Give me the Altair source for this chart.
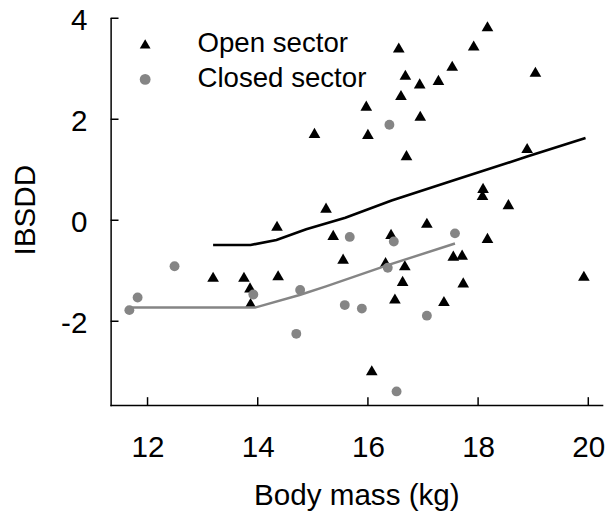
import altair as alt
import pandas as pd

# Open sector (triangles)
open_x = [13.19, 13.75, 13.86, 13.87, 14.35, 14.37, 15.03, 15.24, 15.37, 15.55,
          15.97, 16.00, 16.07, 16.32, 16.42, 16.49, 16.56, 16.60, 16.63, 16.67,
          16.68, 16.70, 16.94, 16.95, 17.07, 17.28, 17.38, 17.53, 17.55, 17.71,
          17.73, 17.92, 18.08, 18.09, 18.17, 18.17, 18.55, 18.89, 19.04, 19.92]
open_y = [-1.12, -1.12, -1.33, -1.64, -0.11, -1.09, 1.73, 0.25, -0.29, -0.76,
          2.27, 1.71, -2.97, -0.83, -0.27, -1.55, 3.42, 2.48, -1.20, -0.89,
          2.88, 1.29, 2.71, 2.07, -0.05, 2.78, -1.60, 3.06, -0.70, -0.68,
          -1.23, 3.46, 0.50, 0.64, 3.84, -0.35, 0.32, 1.43, 2.94, -1.10]

# Closed sector (circles)
closed_x = [11.67, 11.82, 12.49, 13.92, 14.70, 14.77, 15.58, 15.67, 15.89, 16.36,
            16.39, 16.47, 16.52, 17.07, 17.58]
closed_y = [-1.78, -1.53, -0.91, -1.47, -2.25, -1.38, -1.68, -0.33, -1.75, -0.94,
            1.89, -0.42, -3.39, -1.89, -0.26]

# Fitted lines
open_fit_x = [13.19, 13.87, 14.34, 14.88, 15.59, 16.43, 17.56, 18.89, 19.95]
open_fit_y = [-0.49, -0.49, -0.39, -0.18, 0.05, 0.39, 0.79, 1.26, 1.63]
closed_fit_x = [11.67, 13.95, 14.76, 15.24, 16.36, 17.58]
closed_fit_y = [-1.73, -1.73, -1.48, -1.31, -0.89, -0.46]

groups = ["Open sector", "Closed sector"]
x_ticks = [12, 14, 16, 18, 20]
y_ticks = [-2, 0, 2, 4]

FONT = "Liberation Sans"
W, H = 498, 392
XDOM = [11.33, 20.25]
YDOM = [-3.66, 4]

pts = pd.DataFrame({
    "mass": open_x + closed_x,
    "ibsdd": open_y + closed_y,
    "group": [groups[0]] * len(open_x) + [groups[1]] * len(closed_x),
})
open_fit = pd.DataFrame({"mass": open_fit_x, "ibsdd": open_fit_y})
closed_fit = pd.DataFrame({"mass": closed_fit_x, "ibsdd": closed_fit_y})

xscale = alt.Scale(domain=XDOM, nice=False, zero=False)
yscale = alt.Scale(domain=YDOM, nice=False, zero=False)

xaxis = alt.Axis(values=x_ticks, ticks=False, grid=False, domainColor="black",
                 domainWidth=1.5, labelFont=FONT, labelFontSize=30, labelColor="black",
                 labelExpr="'' + datum.value",
                 labelPadding=28, title="Body mass (kg)", titleFont=FONT,
                 titleFontSize=30, titleFontWeight="normal", titleColor="black",
                 titleBaseline="alphabetic", titleY=101, labelFlush=False)
yaxis = alt.Axis(values=y_ticks, ticks=False, grid=False, domainColor="black",
                 domainWidth=1.5, labelFont=FONT, labelFontSize=30, labelColor="black",
                 labelExpr="'' + datum.value",
                 labelPadding=24, labelOffset=2, title="IBSDD", titleFont=FONT,
                 titleFontSize=30, titleFontWeight="normal", titleColor="black",
                 titleBaseline="alphabetic", titleX=-77, titleY=194, labelFlush=False)

leg = alt.Legend(title=None, orient="none", legendX=21, legendY=12,
                 labelFont=FONT, labelFontSize=28, labelColor="black", labelLimit=400,
                 symbolSize=120, labelOffset=39, rowPadding=8,
                 padding=0, symbolStrokeWidth=0)

points = alt.Chart(pts).mark_point(filled=True, opacity=1).encode(
    x=alt.X("mass:Q", scale=xscale, axis=xaxis),
    y=alt.Y("ibsdd:Q", scale=yscale, axis=yaxis),
    shape=alt.Shape("group:N", scale=alt.Scale(domain=groups, range=["triangle-up", "circle"]),
                    legend=leg),
    color=alt.Color("group:N", scale=alt.Scale(domain=groups, range=["black", "#858585"]),
                    legend=leg),
    size=alt.condition("datum.group == 'Open sector'", alt.value(140), alt.value(100)),
)

line_open = alt.Chart(open_fit).mark_line(color="black", strokeWidth=2.7).encode(
    x=alt.X("mass:Q", scale=xscale), y=alt.Y("ibsdd:Q", scale=yscale))
line_closed = alt.Chart(closed_fit).mark_line(color="#858585", strokeWidth=2.5).encode(
    x=alt.X("mass:Q", scale=xscale), y=alt.Y("ibsdd:Q", scale=yscale))

xt = alt.Chart(pd.DataFrame({"t": x_ticks})).mark_rule(color="black", strokeWidth=1.5).encode(
    x=alt.X("t:Q", scale=xscale), y=alt.value(H), y2=alt.value(H - 8))
yt = alt.Chart(pd.DataFrame({"t": y_ticks})).mark_rule(color="black", strokeWidth=1.5).encode(
    y=alt.Y("t:Q", scale=yscale), x=alt.value(0), x2=alt.value(8))

chart = alt.layer(points, line_open, line_closed, xt, yt).properties(
    width=W, height=H,
    autosize=alt.AutoSizeParams(type="none"),
    padding={"left": 104, "top": 7, "right": 5, "bottom": 106},
).configure_view(stroke=None).configure_axis(domainCap="square")

chart.save("out.html", embed_options={"renderer": "svg", "actions": False})
